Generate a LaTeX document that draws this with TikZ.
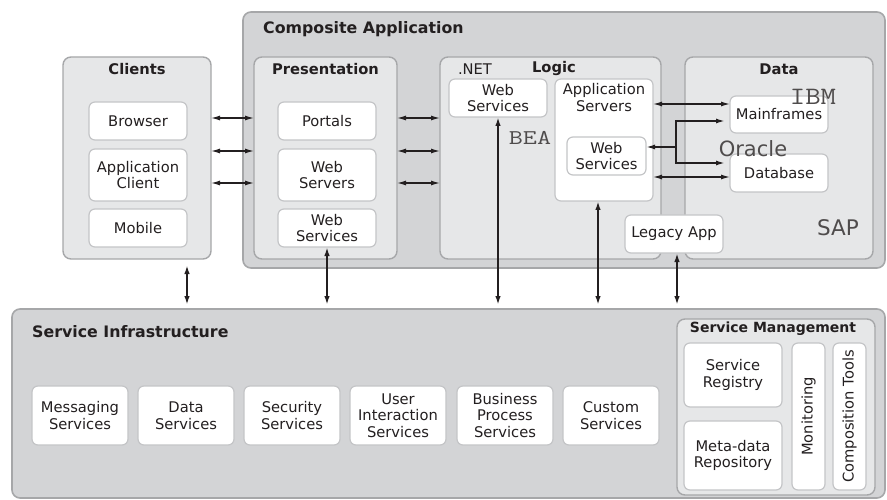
\documentclass[tikz,border=0pt]{standalone}
\usepackage{fontspec}
\usepackage{graphicx}
\setmainfont{DejaVu Sans}
\usetikzlibrary{arrows.meta,positioning,calc}

\definecolor{outerfill}{RGB}{211,212,214}
\definecolor{panelfill}{RGB}{230,231,232}
\definecolor{edgegray}{RGB}{166,167,169}
\definecolor{boxedge}{RGB}{196,197,199}
\definecolor{ink}{RGB}{35,31,32}

\newcommand\lblsize{\fontsize{14.7}{16.7}\selectfont}

\begin{document}
\begin{tikzpicture}[
  x=1pt, y=-1pt, color=ink,
  outer/.style={draw=edgegray, line width=1.6pt, fill=outerfill, rounded corners=8pt,
                inner sep=0pt, outer sep=0pt, anchor=north west},
  panel/.style={draw=edgegray, line width=1.4pt, fill=panelfill, rounded corners=8pt,
                inner sep=0pt, outer sep=0pt, anchor=north west},
  box/.style={draw=boxedge, line width=1.2pt, fill=white, rounded corners=6pt, align=center,
              inner sep=0pt, outer sep=0pt, minimum width=98, minimum height=38, font=\lblsize},
  ttl/.style={font=\bfseries\fontsize{14.7}{16}\selectfont, inner sep=0pt},
  bigttl/.style={font=\bfseries\fontsize{15.8}{18}\selectfont, inner sep=0pt, anchor=west},
  vendor/.style={inner sep=0pt, text=ink!80},
  ar/.style={{Latex[length=9pt,width=5pt]}-{Latex[length=9pt,width=5pt]}, line width=1.2pt},
  var/.style={{Latex[length=9pt,width=5.5pt]}-{Latex[length=9pt,width=5.5pt]}, line width=2pt},
  lk/.style={line width=1.6pt}
]
\useasboundingbox (0,0) rectangle (887,500);

% composite application
\node[outer, minimum width=642, minimum height=256] (comp) at (243,12) {};
\node[bigttl] (comptitle) at (263,29) {Composite Application};

% clients
\node[panel, minimum width=148, minimum height=202] (clients) at (63,57) {};
\node[ttl] (clientstitle) at ([yshift=-12pt]clients.north) {Clients};
\node[box, anchor=north west] (browser) at (89,102) {Browser};
\node[box, minimum height=52, below=9pt of browser] (appclient) {Application\\Client};
\node[box, below=8pt of appclient] (mobile) {Mobile};

% presentation layer
\node[panel, minimum width=143, minimum height=202] (pres) at (254,57) {};
\node[ttl] (prestitle) at ([yshift=-12pt]pres.north) {Presentation};
\node[box, anchor=north west] (portals) at (278,102) {Portals};
\node[box, minimum height=52, below=9pt of portals] (webservers) {Web\\Servers};
\node[box, below=8pt of webservers] (presws) {Web\\Services};

% logic layer
\node[panel, minimum width=221, minimum height=202] (logic) at (440,57) {};
\node[ttl] (logictitle) at (554,69) {Logic};
\node[inner sep=0pt, font=\lblsize] (dotnet) at (475,69) {.NET};
\node[box, anchor=north west] (netws) at (449,79) {Web\\Services};
\node[box, anchor=north west, minimum height=122,
      label={[font=\lblsize, align=center, anchor=north, yshift=-4pt, inner sep=0pt]north:{Application\\Servers}}]
      (appsrv) at (555,79) {};
\node[box, anchor=north west, minimum width=79] (innerws) at (567,137) {Web\\Services};
\node[vendor, font=\ttfamily\fontsize{21}{23}\selectfont] (bea) at (530,138) {\scalebox{1.3}[1]{BEA}};

% data layer
\node[panel, minimum width=188, minimum height=202] (data) at (685,57) {};
\node[ttl] (datatitle) at ([yshift=-12pt]data.north) {Data};
\node[box, anchor=north west, minimum height=37] (mainframes) at (730,96) {Mainframes};
\node[box, anchor=north west] (database) at (730,154) {Database};
\node[vendor, font=\ttfamily\fontsize{25}{27}\selectfont] (ibm) at (813,97) {\scalebox{1.2}[1]{IBM}};
\node[vendor, font=\fontsize{21}{23}\selectfont] (oracle) at (753,149) {Oracle};
\node[vendor, font=\fontsize{21.5}{23}\selectfont] (sap) at (838,228) {SAP};
\node[box, anchor=north west] (legacy) at (625,215) {Legacy App};

% service infrastructure
\node[outer, minimum width=873, minimum height=189] (infra) at (12,309) {};
\node[bigttl] (infratitle) at (32,332) {Service Infrastructure};
\node[box, anchor=north west, minimum width=96, minimum height=59] (msg) at (32,386) {Messaging\\Services};
\node[box, minimum width=96, minimum height=59, right=10pt of msg] (datasvc) {Data\\Services};
\node[box, minimum width=96, minimum height=59, right=10pt of datasvc] (secsvc) {Security\\Services};
\node[box, minimum width=96, minimum height=59, right=10pt of secsvc] (uisvc) {User\\Interaction\\Services};
\node[box, minimum width=96, minimum height=59, right=11pt of uisvc] (bpsvc) {Business\\Process\\Services};
\node[box, minimum width=96, minimum height=59, right=10pt of bpsvc] (custsvc) {Custom\\Services};

% service management
\node[panel, minimum width=198, minimum height=176] (mgmt) at (677,319) {};
\node[ttl, font=\bfseries\fontsize{14}{16}\selectfont] (mgmttitle) at (773,329) {Service Management};
\node[box, anchor=north west, minimum height=64] (registry) at (684,343) {Service\\Registry};
\node[box, anchor=north west, minimum height=69] (metadata) at (684,421) {Meta-data\\Repository};
\node[box, rotate=90, minimum width=147, minimum height=33] (monitor) at (808.5,416.5) {Monitoring};
\node[box, rotate=90, minimum width=147, minimum height=33] (tools) at (849.5,416.5) {Composition Tools};

% layer to layer
\foreach \y in {118,151,183} {
  \draw[ar] (clients.east |- 0,\y) -- (pres.west |- 0,\y);
  \draw[ar] (pres.east |- 0,\y) -- (logic.west |- 0,\y);
}

% logic to data
\draw[ar] (appsrv.east |- 0,104) -- (mainframes.west |- 0,104);
\draw[ar] (appsrv.east |- 0,177) -- (database.west |- 0,177);
\coordinate (split) at (676,147);
\draw[lk, -{Latex[length=9pt,width=5pt]}] (split) -- (innerws.east |- split);
\draw[lk, {Latex[length=9pt,width=5pt]}-{Latex[length=9pt,width=5pt]}]
  ($(mainframes.west |- 0,121)+(-5,0)$) -| (split) |- ($(database.west |- 0,163)+(-5,0)$);

% down to the infrastructure
\draw[var, shorten <=6pt, shorten >=4pt] (clients.south -| 187,0) -- (infra.north -| 187,0);
\draw[var, shorten >=4pt] (presws.south) -- (presws.south |- infra.north);
\draw[var, shorten >=4pt] (netws.south) -- (netws.south |- infra.north);
\draw[var, shorten >=4pt] ([xshift=-6pt]appsrv.south) -- ([xshift=-6pt]appsrv.south |- infra.north);
\draw[var, shorten >=4pt] ([xshift=3pt]legacy.south) -- ([xshift=3pt]legacy.south |- infra.north);
\end{tikzpicture}
\end{document}
